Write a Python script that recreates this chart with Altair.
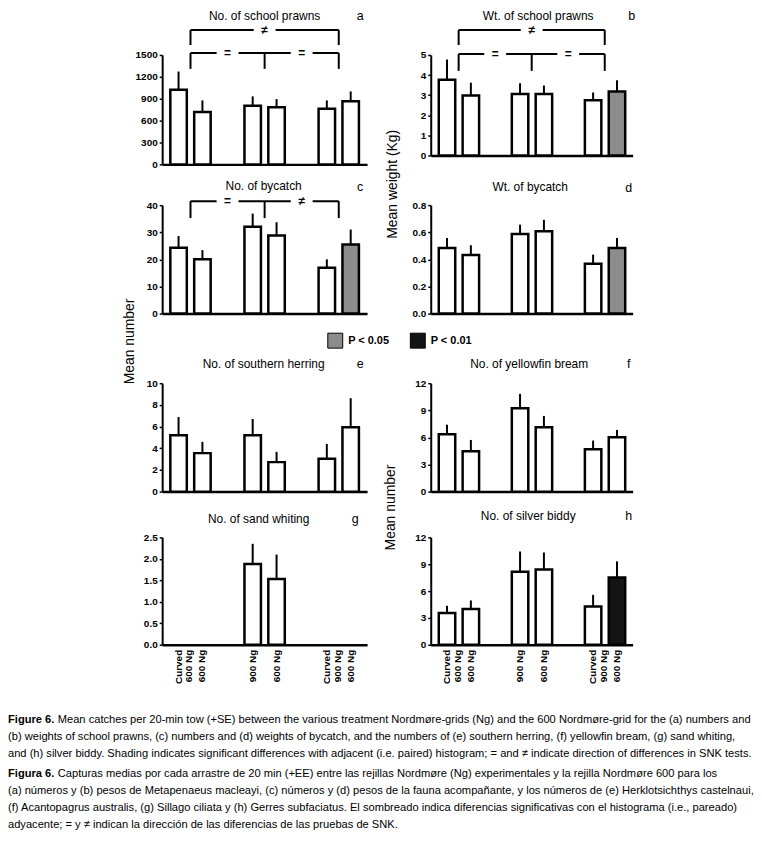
import altair as alt
import pandas as pd

FONT = "Liberation Sans"
CAP_FONT = "Liberation Sans"
CAP_SIZE = 11.2

# ---------------- data ----------------
pair_ids = ["P1", "P1", "P2", "P2", "P3", "P3"]
member_ids = ["A", "B", "A", "B", "A", "B"]
bar_labels = ["Curved\n600 Ng", "600 Ng", "900 Ng", "600 Ng", "Curved\n900 Ng", "600 Ng"]

a_mean = [1023, 718, 805, 782, 764, 864]
a_upper = [1273, 877, 932, 895, 877, 1000]
a_sig = ["ns", "ns", "ns", "ns", "ns", "ns"]

b_mean = [3.77, 2.98, 3.06, 3.06, 2.75, 3.18]
b_upper = [4.78, 3.62, 3.59, 3.48, 3.13, 3.74]
b_sig = ["ns", "ns", "ns", "ns", "ns", "P < 0.05"]

c_mean = [24.3, 20.0, 32.0, 28.8, 16.9, 25.5]
c_upper = [28.6, 23.4, 36.9, 33.7, 20.0, 31.0]
c_sig = ["ns", "ns", "ns", "ns", "ns", "P < 0.05"]

d_mean = [0.484, 0.433, 0.587, 0.607, 0.367, 0.484]
d_upper = [0.558, 0.504, 0.656, 0.692, 0.435, 0.558]
d_sig = ["ns", "ns", "ns", "ns", "ns", "P < 0.05"]

e_mean = [5.2, 3.55, 5.2, 2.72, 3.03, 5.93]
e_upper = [6.88, 4.59, 6.7, 3.67, 4.4, 8.62]
e_sig = ["ns", "ns", "ns", "ns", "ns", "ns"]

f_mean = [6.35, 4.47, 9.23, 7.13, 4.69, 6.02]
f_upper = [7.39, 5.72, 10.82, 8.38, 5.65, 6.83]
f_sig = ["ns", "ns", "ns", "ns", "ns", "ns"]

g_mean = [0, 0, 1.88, 1.53, 0, 0]
g_upper = [0, 0, 2.35, 2.10, 0, 0]
g_sig = ["ns", "ns", "ns", "ns", "ns", "ns"]

h_mean = [3.56, 4.0, 8.15, 8.4, 4.29, 7.52]
h_upper = [4.37, 4.95, 10.42, 10.31, 5.58, 9.32]
h_sig = ["ns", "ns", "ns", "ns", "ns", "P < 0.01"]

sig_domain = ["ns", "P < 0.05", "P < 0.01"]
sig_colors = ["white", "#8c8c8c", "#141414"]
legend_values = ["P < 0.05", "P < 0.01"]

caption_en_head = "Figure 6."
caption_en = [
    "Mean catches per 20-min tow (+SE) between the various treatment Nordmøre-grids (Ng) and the 600 Nordmøre-grid for the (a) numbers and",
    "(b) weights of school prawns, (c) numbers and (d) weights of bycatch, and the numbers of (e) southern herring, (f) yellowfin bream, (g) sand whiting,",
    "and (h) silver biddy. Shading indicates significant differences with adjacent (i.e. paired) histogram; = and ≠ indicate direction of differences in SNK tests.",
]
caption_es_head = "Figura 6."
caption_es = [
    "Capturas medias por cada arrastre de 20 min (+EE) entre las rejillas Nordmøre (Ng) experimentales y la rejilla Nordmøre 600 para los",
    "(a) números y (b) pesos de Metapenaeus macleayi, (c) números y (d) pesos de la fauna acompañante, y los números de (e) Herklotsichthys castelnaui,",
    "(f) Acantopagrus australis, (g) Sillago ciliata y (h) Gerres subfaciatus. El sombreado indica diferencias significativas con el histograma (i.e., pareado)",
    "adyacente; = y ≠ indican la dirección de las diferencias de las pruebas de SNK.",
]

# ---------------- style ----------------
PAD_INNER, PAD_OUTER = 0.456, 0.11
OFF_INNER = 0.31

LEGEND = alt.Legend(
    orient="none", legendX=166, legendY=279, direction="horizontal", columns=2,
    values=legend_values, title=None, symbolType="square", symbolSize=225,
    symbolStrokeColor="black", symbolStrokeWidth=1, symbolOpacity=1,
    labelFont=FONT, labelFontSize=11, labelFontWeight="bold", labelColor="black",
    labelOffset=5, columnPadding=18, padding=0,
)


def make_panel(mean, upper, sig, W, H, top, ymax, ticks, fmt, title, tx, ty,
               letter, lx, ly, brackets=(), xlabels=False, side_titles=(), caption=False):
    df = pd.DataFrame({"pair": pair_ids, "member": member_ids, "mean": mean,
                       "upper": upper, "sig": sig, "label": bar_labels})
    base = alt.Chart(df)
    x = alt.X("pair:N", scale=alt.Scale(paddingInner=PAD_INNER, paddingOuter=PAD_OUTER),
              axis=alt.Axis(labels=False, ticks=False, title=None, domainColor="black",
                            domainWidth=2.5))
    xo = alt.XOffset("member:N", scale=alt.Scale(paddingInner=OFF_INNER, paddingOuter=0))
    yscale = alt.Scale(domain=[0, ymax], range=[H, top], nice=False)
    yaxis = alt.Axis(values=ticks, format=fmt, title=None, grid=False,
                     domainColor="black", domainWidth=2, tickColor="black",
                     tickWidth=1.5, tickSize=3, labelFont=FONT, labelFontSize=10,
                     labelFontWeight="bold", labelColor="black", labelPadding=2,
                     labelOverlap=False)
    step = W / (3 - PAD_INNER + 2 * PAD_OUTER)

    bars = base.transform_filter("datum.mean > 0").mark_bar(
        stroke="black", strokeWidth=2.5).encode(
        x=x, xOffset=xo,
        y=alt.Y("mean:Q", scale=yscale, axis=yaxis),
        fill=alt.Fill("sig:N", scale=alt.Scale(domain=sig_domain, range=sig_colors),
                      legend=LEGEND),
    )
    err = base.transform_filter("datum.mean > 0").mark_rule(
        color="black", strokeWidth=2).encode(
        x=x, xOffset=xo,
        y=alt.Y("mean:Q", scale=yscale, axis=yaxis), y2="upper:Q",
    )
    layers = [bars, err]

    for br in brackets:
        yy, yend = br["y"], br["drop"]
        hline = alt.Chart(pd.DataFrame({"pair": br["ends"]})).mark_line(
            color="black", strokeWidth=2).encode(x=x, y=alt.value(yy))
        drops = alt.Chart(pd.DataFrame({"pair": br["drops"]})).mark_rule(
            color="black", strokeWidth=2).encode(x=x, y=alt.value(yy), y2=alt.value(yend))
        layers += [hline, drops]
        for (p, frac, sym) in br["marks"]:
            dx = frac * step
            mask = alt.Chart(pd.DataFrame({"pair": [p]})).mark_bar(
                color="white", width=22, xOffset=dx).encode(
                x=x, y=alt.value(yy - 4), y2=alt.value(yy + 4))
            txt = alt.Chart(pd.DataFrame({"pair": [p], "s": [sym]})).mark_text(
                dx=dx, fontSize=12, fontWeight="bold", font=FONT, color="black",
                baseline="middle").encode(x=x, y=alt.value(yy), text="s:N")
            layers += [mask, txt]

    ttl = alt.Chart(pd.DataFrame({"t": [title]})).mark_text(
        fontSize=12, font=FONT, color="black", baseline="middle", align="center").encode(
        x=alt.value(tx), y=alt.value(ty), text="t:N")
    let = alt.Chart(pd.DataFrame({"t": [letter]})).mark_text(
        fontSize=12.5, font=FONT, color="black", baseline="middle", align="center").encode(
        x=alt.value(lx), y=alt.value(ly), text="t:N")
    layers += [ttl, let]

    for (txt_, sx, sy) in side_titles:
        layers.append(alt.Chart(pd.DataFrame({"t": [txt_]})).mark_text(
            fontSize=14, font=FONT, color="black", angle=270, baseline="middle",
            align="center").encode(x=alt.value(sx), y=alt.value(sy), text="t:N"))

    if xlabels:
        layers.append(base.mark_text(
            angle=270, align="right", baseline="middle", fontSize=10, fontWeight="bold",
            font=FONT, color="black", lineBreak="\n", lineHeight=11).encode(
            x=x, xOffset=xo, y=alt.value(H + 5), text="label:N"))

    if caption:
        x0 = -155
        y_en = [220, 237, 254]
        y_es = [274, 291, 308, 325]
        for head, lines, ys in ((caption_en_head, caption_en, y_en),
                                (caption_es_head, caption_es, y_es)):
            layers.append(alt.Chart(pd.DataFrame({"t": [head]})).mark_text(
                fontSize=CAP_SIZE, font=CAP_FONT, fontWeight="bold", color="black",
                align="left", baseline="middle").encode(
                x=alt.value(x0), y=alt.value(ys[0]), text="t:N"))
            for i, (ln, yv) in enumerate(zip(lines, ys)):
                xv = x0 + 50 if i == 0 else x0
                layers.append(alt.Chart(pd.DataFrame({"t": [ln]})).mark_text(
                    fontSize=CAP_SIZE, font=CAP_FONT, color="black", align="left",
                    baseline="middle").encode(x=alt.value(xv), y=alt.value(yv), text="t:N"))

    return alt.layer(*layers).properties(width=W, height=H)


LW, RW = 206, 203

pa = make_panel(a_mean, a_upper, a_sig, LW, 110, 0, 1500, [0, 300, 600, 900, 1200, 1500], "d",
                "No. of school prawns", 103, -39, "a", 199, -39,
                brackets=[
                    {"y": -25, "drop": -10, "ends": ["P1", "P3"], "drops": ["P1", "P3"],
                     "marks": [("P2", 0, "≠")]},
                    {"y": -2, "drop": 14, "ends": ["P1", "P3"], "drops": ["P1", "P2", "P3"],
                     "marks": [("P1", 0.5, "="), ("P2", 0.5, "=")]},
                ])
pb = make_panel(b_mean, b_upper, b_sig, RW, 101, 0, 5, [0, 1, 2, 3, 4, 5], "d",
                "Wt. of school prawns", 108, -39, "b", 202, -39,
                brackets=[
                    {"y": -25, "drop": -10, "ends": ["P1", "P3"], "drops": ["P1", "P3"],
                     "marks": [("P2", 0, "≠")]},
                    {"y": -1, "drop": 16, "ends": ["P1", "P3"], "drops": ["P1", "P2", "P3"],
                     "marks": [("P1", 0.5, "="), ("P2", 0.5, "=")]},
                ],
                side_titles=[("Mean weight (Kg)", -38, 130)])
pc = make_panel(c_mean, c_upper, c_sig, LW, 140, 31, 40, [0, 10, 20, 30, 40], "d",
                "No. of bycatch", 102, 12, "c", 199, 13,
                brackets=[
                    {"y": 27, "drop": 44, "ends": ["P1", "P3"], "drops": ["P1", "P2", "P3"],
                     "marks": [("P1", 0.5, "="), ("P2", 0.5, "≠")]},
                ],
                side_titles=[("Mean number", -32, 168)])
pd_ = make_panel(d_mean, d_upper, d_sig, RW, 140, 31, 0.8, [0, 0.2, 0.4, 0.6, 0.8], ".1f",
                 "Wt. of bycatch", 100, 13, "d", 199, 14)
pe = make_panel(e_mean, e_upper, e_sig, LW, 169, 60, 10, [0, 2, 4, 6, 8, 10], "d",
                "No. of southern herring", 102, 41, "e", 199, 41)
pf = make_panel(f_mean, f_upper, f_sig, RW, 169, 60, 12, [0, 3, 6, 9, 12], "d",
                "No. of yellowfin bream", 99, 41, "f", 199, 41,
                side_titles=[("Mean number", -40, 185)])
pg = make_panel(g_mean, g_upper, g_sig, LW, 144, 36, 2.5, [0, 0.5, 1, 1.5, 2, 2.5], ".1f",
                "No. of sand whiting", 97, 18, "g", 194, 18, xlabels=True, caption=True)
ph = make_panel(h_mean, h_upper, h_sig, RW, 144, 36, 12, [0, 3, 6, 9, 12], "d",
                "No. of silver biddy", 98, 15, "h", 199, 15, xlabels=True)

chart = alt.concat(
    pa, pb, pc, pd_, pe, pf, pg, ph,
    columns=2, spacing={"row": 10, "column": 64}, bounds="flush",
).properties(padding=0).configure_view(stroke=None)

chart.save("out.html", embed_options={"renderer": "svg", "actions": False})
